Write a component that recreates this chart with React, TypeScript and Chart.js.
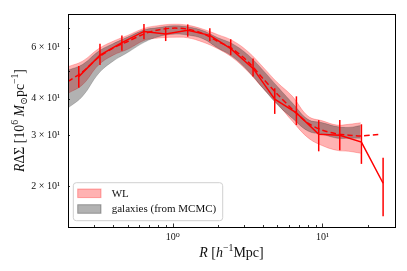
import React, { useEffect, useRef } from 'react';
import { Chart, registerables } from 'chart.js';

Chart.register(...registerables);

// ---- data ----
const radii = [0.236, 0.327, 0.458, 0.643, 0.898, 1.26, 1.77, 2.44, 3.44, 4.8, 6.7, 9.44, 13.05, 18.2, 25.4];
const wlSignal = [47.7, 56.5, 62.4, 68.2, 66.9, 68.8, 66.1, 59.5, 50.9, 39.9, 35.8, 30.2, 30.0, 28.4, 20.5];
const wlErrHigh = [51.9, 61.9, 66.1, 72.4, 70.5, 72.1, 70.0, 64.1, 55.0, 43.5, 40.8, 33.8, 33.8, 32.7, 25.1];
const wlErrLow = [43.7, 52.3, 58.5, 64.1, 63.2, 65.4, 63.1, 56.5, 47.7, 35.5, 32.5, 26.4, 26.6, 23.9, 15.8];

const bandR = [0.2, 0.25, 0.32, 0.4, 0.5, 0.65, 0.8, 1.0, 1.25, 1.6, 2.0, 2.5, 3.2, 4.0, 5.0, 6.3, 8.0, 10, 12.5, 15, 18];
const wlBandUpper = [51.6, 53.9, 59.5, 63.1, 66.1, 70.0, 71.4, 72.2, 71.7, 69.4, 66.5, 63.5, 58.0, 51.5, 45.5, 40.8, 34.9, 33.6, 32.5, 32.7, 33.1];
const wlBandLower = [41.8, 44.7, 52.3, 56.5, 59.2, 63.6, 64.7, 65.1, 64.9, 62.6, 59.5, 55.5, 49.5, 43.5, 38.5, 33.5, 29.4, 27.6, 26.6, 26.4, 26.0];
const galBandUpper = [50.2, 52.5, 58.3, 61.9, 65.2, 69.1, 70.3, 71.3, 70.8, 68.6, 64.9, 61.9, 56.5, 50.2, 44.1, 38.7, 34.0, 33.1, 32.1, 31.9, 32.4];
const galBandLower = [37.2, 40.8, 48.9, 53.9, 57.7, 62.7, 65.4, 66.7, 66.3, 64.3, 59.8, 56.0, 49.8, 43.6, 38.2, 34.3, 31.0, 30.2, 29.3, 29.3, 29.3];

const modelR = [0.2, 0.25, 0.32, 0.4, 0.5, 0.65, 0.8, 1.0, 1.25, 1.6, 2.0, 2.5, 3.2, 4.0, 5.0, 6.3, 8.0, 10, 12.5, 15, 18, 24];
const modelValues = [45.9, 49.5, 55.5, 59.8, 63, 67, 69, 70, 69.5, 67, 63, 59.5, 53.5, 47, 41.5, 36.8, 33, 31.2, 30.3, 30, 29.8, 30.2];

const xTickValues = [0.3, 0.4, 0.5, 0.6, 0.7, 0.8, 0.9, 1, 2, 3, 4, 5, 6, 7, 8, 9, 10, 20];
const xMajorValues = [1, 10];
const xMajorLabels = ['10⁰', '10¹'];
const yTickValues = [20, 30, 40, 50, 60, 70];
const yTickLabels = ['2 × 10¹', '3 × 10¹', '4 × 10¹', '', '6 × 10¹', ''];
const legendLabels = ['WL', 'galaxies (from MCMC)'];

const RED = 'rgb(255,0,0)';
const WL_FILL = 'rgba(255,0,0,0.3)';
const GAL_FILL = 'rgba(0,0,0,0.3)';
const SERIF = '"Liberation Serif", "DejaVu Serif", serif';

type Seg = { t: string; it?: boolean; sup?: boolean; sub?: boolean };

function segFont(s: Seg, size: number) {
  const sz = s.sup || s.sub ? size * 0.7 : size;
  return `${s.it ? 'italic ' : ''}${sz}px ${SERIF}`;
}

function drawRich(ctx: CanvasRenderingContext2D, segs: Seg[], cx: number, y: number, size: number) {
  let w = 0;
  for (const s of segs) {
    ctx.font = segFont(s, size);
    w += ctx.measureText(s.t).width;
  }
  let x = cx - w / 2;
  ctx.textAlign = 'left';
  ctx.textBaseline = 'alphabetic';
  for (const s of segs) {
    ctx.font = segFont(s, size);
    const dy = s.sup ? -size * 0.4 : s.sub ? size * 0.22 : 0;
    ctx.fillText(s.t, x, y + dy);
    x += ctx.measureText(s.t).width;
  }
}

const xLabel: Seg[] = [
  { t: 'R', it: true }, { t: ' [' }, { t: 'h', it: true }, { t: '−1', sup: true }, { t: 'Mpc]' },
];
const yLabel: Seg[] = [
  { t: 'R', it: true }, { t: 'ΔΣ [10' }, { t: '6', sup: true }, { t: ' ' }, { t: 'M', it: true },
  { t: '⊙', sub: true }, { t: 'pc' }, { t: '−1', sup: true }, { t: ']' },
];

const decorPlugin = {
  id: 'decor',
  afterDatasetsDraw(chart: any) {
    const ctx: CanvasRenderingContext2D = chart.ctx;
    const xs = chart.scales.x;
    const ys = chart.scales.y;
    ctx.save();
    ctx.strokeStyle = RED;
    ctx.lineWidth = 1.5;
    for (let i = 0; i < radii.length; i++) {
      const px = xs.getPixelForValue(radii[i]);
      ctx.beginPath();
      ctx.moveTo(px, ys.getPixelForValue(wlErrHigh[i]));
      ctx.lineTo(px, ys.getPixelForValue(wlErrLow[i]));
      ctx.stroke();
    }
    ctx.restore();
  },
  afterDraw(chart: any) {
    const ctx: CanvasRenderingContext2D = chart.ctx;
    const a = chart.chartArea;
    const xs = chart.scales.x;
    const ys = chart.scales.y;
    ctx.save();
    // frame
    ctx.strokeStyle = '#000';
    ctx.lineWidth = 1;
    ctx.strokeRect(Math.round(a.left) + 0.5, Math.round(a.top) + 0.5, Math.round(a.right - a.left), Math.round(a.bottom - a.top));
    // inward ticks
    ctx.lineWidth = 0.8;
    for (const v of xTickValues) {
      const px = Math.round(xs.getPixelForValue(v)) + 0.5;
      const len = xMajorValues.includes(v) ? 3.5 : 2;
      ctx.beginPath();
      ctx.moveTo(px, a.bottom);
      ctx.lineTo(px, a.bottom - len);
      ctx.stroke();
    }
    for (const v of yTickValues) {
      const py = Math.round(ys.getPixelForValue(v)) + 0.5;
      ctx.beginPath();
      ctx.moveTo(a.left, py);
      ctx.lineTo(a.left + 2, py);
      ctx.stroke();
    }
    // legend
    const lx = a.left + 5.3, ly = 182.7, lw = 149.4, lh = 38;
    ctx.beginPath();
    (ctx as any).roundRect(lx, ly, lw, lh, 3);
    ctx.fillStyle = 'rgba(255,255,255,0.8)';
    ctx.fill();
    ctx.strokeStyle = '#d0d0d0';
    ctx.lineWidth = 1;
    ctx.stroke();
    const fills = [WL_FILL, GAL_FILL];
    const rows = [193.3, 209];
    ctx.font = `11px ${SERIF}`;
    ctx.textBaseline = 'middle';
    ctx.textAlign = 'left';
    for (let i = 0; i < legendLabels.length; i++) {
      ctx.fillStyle = fills[i];
      ctx.fillRect(lx + 4.4, rows[i] - 4.3, 23.3, 8.6);
      ctx.strokeStyle = fills[i];
      ctx.strokeRect(lx + 4.4, rows[i] - 4.3, 23.3, 8.6);
      ctx.fillStyle = '#111';
      ctx.fillText(legendLabels[i], lx + 38.4, rows[i] + 0.5);
    }
    // axis labels
    ctx.fillStyle = '#111';
    drawRich(ctx, xLabel, (a.left + a.right) / 2, 256.5, 14);
    ctx.translate(24, (a.top + a.bottom) / 2);
    ctx.rotate(-Math.PI / 2);
    drawRich(ctx, yLabel, 0, 0, 13.8);
    ctx.restore();
  },
};

export default function App() {
  const ref = useRef<HTMLCanvasElement | null>(null);
  useEffect(() => {
    if (!ref.current) return;
    const pts = (xs: number[], ys: number[]) => xs.map((x, i) => ({ x, y: ys[i] }));
    const chart = new Chart(ref.current, {
      type: 'line',
      data: {
        datasets: [
          { label: 'data', data: pts(radii, wlSignal), borderColor: RED, borderWidth: 1.5, pointRadius: 0, fill: false, order: 0 },
          { label: 'model', data: pts(modelR, modelValues), borderColor: RED, borderWidth: 1.5, borderDash: [5.5, 3], pointRadius: 0, fill: false, tension: 0.3, order: 0 },
          { label: 'galUpper', data: pts(bandR, galBandUpper), borderColor: GAL_FILL, backgroundColor: GAL_FILL, borderWidth: 0.6, pointRadius: 0, fill: '+1', tension: 0.4, order: 1 },
          { label: 'galLower', data: pts(bandR, galBandLower), borderColor: GAL_FILL, borderWidth: 0.6, pointRadius: 0, fill: false, tension: 0.4, order: 1 },
          { label: 'wlUpper', data: pts(bandR, wlBandUpper), borderColor: WL_FILL, backgroundColor: WL_FILL, borderWidth: 0.8, pointRadius: 0, fill: '+1', tension: 0.4, order: 2 },
          { label: 'wlLower', data: pts(bandR, wlBandLower), borderColor: WL_FILL, borderWidth: 0.8, pointRadius: 0, fill: false, tension: 0.4, order: 2 },
        ],
      },
      options: {
        responsive: false,
        animation: false,
        layout: { padding: { left: 0, right: 12, top: 12, bottom: 0 } },
        plugins: { legend: { display: false }, tooltip: { enabled: false } },
        scales: {
          x: {
            type: 'logarithmic',
            min: 0.2,
            max: 30.5,
            grid: { display: false, drawTicks: false },
            border: { display: false },
            afterBuildTicks: (s: any) => { s.ticks = xTickValues.map((v) => ({ value: v })); },
            afterFit: (s: any) => { s.height = 44; },
            ticks: {
              autoSkip: false,
              maxRotation: 0,
              padding: 4,
              color: '#111',
              font: { family: SERIF, size: 10 },
              callback: (v: any) => {
                const i = xMajorValues.indexOf(Number(v));
                return i >= 0 ? xMajorLabels[i] : '';
              },
            },
          },
          y: {
            type: 'logarithmic',
            min: 14.5,
            max: 78.3,
            grid: { display: false, drawTicks: false },
            border: { display: false },
            afterBuildTicks: (s: any) => { s.ticks = yTickValues.map((v) => ({ value: v })); },
            afterFit: (s: any) => { s.width = 68; },
            ticks: {
              autoSkip: false,
              padding: 8,
              color: '#111',
              font: { family: SERIF, size: 10 },
              callback: (v: any) => {
                const i = yTickValues.indexOf(Number(v));
                return i >= 0 ? yTickLabels[i] : '';
              },
            },
          },
        },
      },
      plugins: [decorPlugin],
    } as any);
    return () => chart.destroy();
  }, []);
  return (
    <div style={{ position: 'absolute', left: 0, top: 0, width: 407, height: 271, background: '#fff' }}>
      <canvas ref={ref} width={407} height={271} />
    </div>
  );
}
